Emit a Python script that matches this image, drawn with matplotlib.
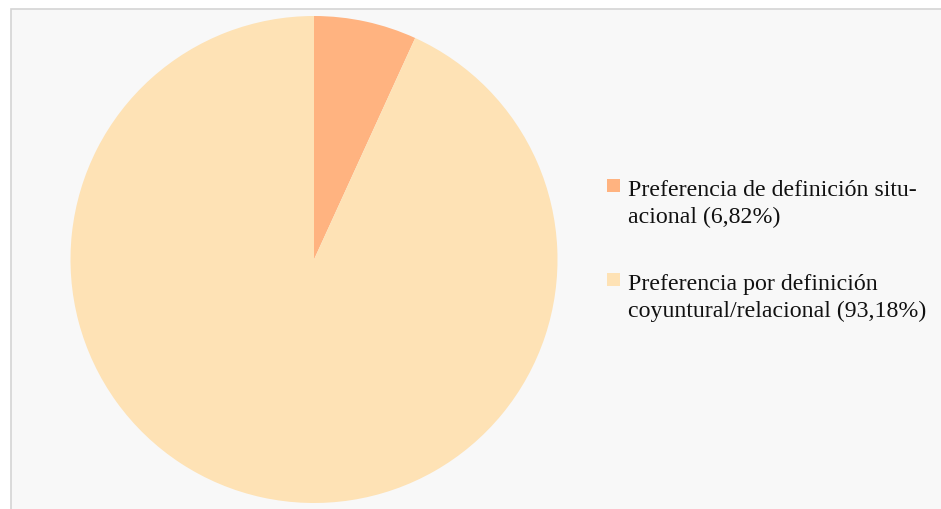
#!/usr/bin/env python3

import matplotlib.pyplot as plt
from matplotlib.patches import Rectangle

plt.rcParams['font.family'] = 'Liberation Serif'

labels = [
  ['Preferencia de definición situ-', 'acional (6,82%)'],
  ['Preferencia por definición', 'coyuntural/relacional (93,18%)'],
]
values = [6.82, 93.18]
colors = ['#ffb380', '#fee2b5']

W, H = 941, 510
fig = plt.figure(figsize=(W / 100, H / 100), dpi=100)
fig.patch.set_facecolor('white')

# light panel behind everything
fig.add_artist(Rectangle((11 / W, -0.01), 1.0, (H - 9.5) / H + 0.01,
                         transform=fig.transFigure, facecolor='#f8f8f8',
                         edgecolor='#d4d4d4', linewidth=1.2, zorder=0))

ax = fig.add_axes([70 / W, 6 / H, 488 / W, 487 / H])
ax.set_facecolor('none')
ax.pie(values, colors=colors, startangle=90, counterclock=False,
       wedgeprops=dict(linewidth=0), radius=1.0)
ax.set_xlim(-1, 1)
ax.set_ylim(-1, 1)
ax.set_aspect('equal')
ax.axis('off')

# legend drawn by hand so the swatch sits on the first text line
tops = [180, 274]
for top, lines, col in zip(tops, labels, colors):
    fig.add_artist(Rectangle((607 / W, (H - top - 13) / H), 13 / W, 13 / H,
                             transform=fig.transFigure, facecolor=col,
                             edgecolor='none', zorder=3))
    for i, line in enumerate(lines):
        base = top + 16 + 27 * i
        fig.text(628 / W, (H - base) / H, line, fontsize=17.2,
                 color='#111111', va='baseline', ha='left')

fig.savefig('out.png', dpi=100)
